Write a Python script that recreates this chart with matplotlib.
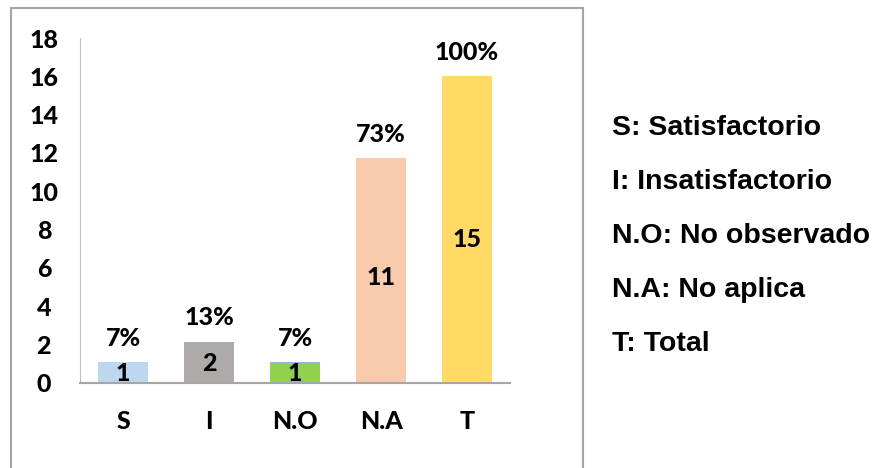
import matplotlib.pyplot as plt
from matplotlib.patches import Rectangle

# data
categories = ["S", "I", "N.O", "N.A", "T"]
counts = [1, 2, 1, 11, 15]
percents = [0.07, 0.13, 0.07, 0.73, 1.00]
percent_labels = ["7%", "13%", "7%", "73%", "100%"]
legend_lines = ["S: Satisfactorio", "I: Insatisfactorio", "N.O: No observado",
                "N.A: No aplica", "T: Total"]

count_colors = ["#BDD7EE", "#AEAAAA", "#92D050", "#F8CBAD", "#FFD966"]
percent_colors = ["#BDD7EE", "#AEAAAA", "#8EB4E3", "#F8CBAD", "#FFD966"]

plt.rcParams['font.family'] = ['Lato', 'DejaVu Sans']
fs = 18
wt = "black"

fig = plt.figure(figsize=(8.73, 4.68), dpi=100)
ax = fig.add_axes([80 / 873, 1 - 382.7 / 468, 430 / 873, (382.7 - 38) / 468])

x = range(len(categories))
ax.bar(x, counts, width=0.575, color=count_colors)
ax.bar(x, percents, bottom=counts, width=0.575, color=percent_colors)

for i in x:
    ax.text(i, counts[i] / 2, str(counts[i]), ha="center", va="center",
            fontsize=fs, fontweight=wt)
    ax.text(i, counts[i] + percents[i] + 1.25, percent_labels[i], ha="center",
            va="center", fontsize=fs, fontweight=wt)

ax.set_xlim(-0.5, 4.5)
ax.set_ylim(0, 18)
ax.set_yticks(range(0, 19, 2))
ax.set_xticks(list(x))
ax.set_xticklabels(categories)
ax.tick_params(axis="both", length=0, labelsize=fs)
ax.tick_params(axis="y", pad=26)
ax.tick_params(axis="x", pad=20)
for lab in ax.get_xticklabels() + ax.get_yticklabels():
    lab.set_fontweight(wt)
for lab in ax.get_yticklabels():
    lab.set_horizontalalignment("center")
ax.spines["top"].set_visible(False)
ax.spines["right"].set_visible(False)
ax.spines["left"].set_color("#BFBFBF")
ax.spines["bottom"].set_color("#A6A6A6")
ax.spines["bottom"].set_linewidth(1.5)

# chart area frame
fig.patches.append(Rectangle((11 / 873, -0.05), (583 - 11) / 873, 1.05 - 8 / 468,
                             transform=fig.transFigure, fill=False,
                             edgecolor="#A6A6A6", linewidth=1.5))

# side notes
for k, line in enumerate(legend_lines):
    fig.text(612 / 873, 1 - (128 + k * 54) / 468, line, ha="left", va="center",
             fontsize=20.5, fontweight="bold", family="Liberation Sans")

fig.savefig("out.png", dpi=100)
